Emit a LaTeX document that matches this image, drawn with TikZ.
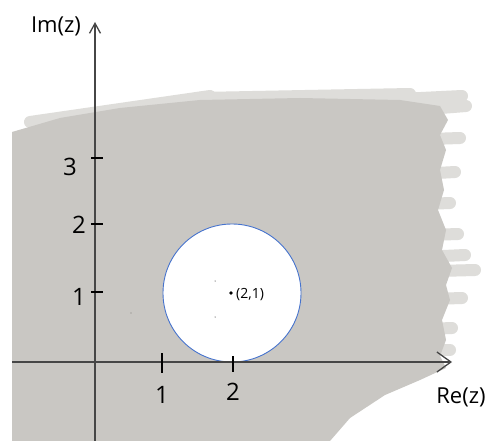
\documentclass[tikz,border=0pt]{standalone}
\usepackage{fontspec}
\setmainfont{Open Sans}
\usetikzlibrary{arrows.meta}
\definecolor{regiongray}{RGB}{201,199,195}
\definecolor{regionlight}{RGB}{222,221,218}
\definecolor{axiscol}{RGB}{70,70,70}
\definecolor{circblue}{RGB}{70,115,205}
\begin{document}
\begin{tikzpicture}[x=1pt,y=-1pt,
  brush/.style={regionlight, line width=12pt, line cap=round},
  axisline/.style={axiscol, line width=1.3pt},
  tickmark/.style={black, line width=1.3pt},
  ticklabel/.style={font=\fontsize{24}{24}\selectfont, inner sep=0pt},
  axislabel/.style={font=\fontsize{22}{22}\selectfont, inner sep=0pt}]
\useasboundingbox (0,0) rectangle (490,441);
\fill[white] (0,0) rectangle (490,441);
% light brush strokes at the edges
\draw[brush] (30,122) -- (210,96);
\draw[brush] (200,98) -- (410,94);
\draw[brush] (380,100) -- (462,96);
\draw[brush] (390,112) -- (466,106);
\draw[brush] (400,140) -- (460,138);
\draw[brush] (400,175) -- (455,172);
\draw[brush] (400,205) -- (450,203);
\draw[brush] (400,236) -- (458,234);
\draw[brush] (400,258) -- (465,255);
\draw[brush] (400,272) -- (475,270);
\draw[brush] (400,300) -- (462,298);
\draw[brush] (400,330) -- (452,328);
\draw[brush] (400,350) -- (450,350);
% main shaded region
\fill[regiongray] (12,132) -- (60,118) -- (120,108) -- (200,100) -- (300,98)
  -- (400,100) -- (440,106) -- (448,120) -- (440,135) -- (446,150)
  -- (440,170) -- (444,190) -- (438,210) -- (446,230) -- (442,250)
  -- (452,268) -- (446,285) -- (450,300) -- (442,320) -- (446,340)
  -- (440,356) -- (446,368) -- (420,380) -- (385,395) -- (350,418)
  -- (330,441) -- (12,441) -- cycle;
% circle
\fill[white, draw=circblue, line width=0.9pt] (232,293) circle (69);
\fill[black] (215,281) circle (0.5);
\fill[black] (215,317) circle (0.5);
\fill[black] (131,313) circle (0.4);
% axes
\coordinate (xs) at (12,362);
\coordinate (xe) at (452,362);
\coordinate (ys) at (95,441);
\coordinate (ye) at (95,22);
\draw[axisline, -{Straight Barb[length=14pt,width=20pt,line width=1.3pt]}] (xs) -- (xe);
\draw[axisline, -{Straight Barb[length=10pt,width=11pt,line width=1.3pt]}] (ys) -- (ye);
% ticks
\draw[tickmark] (91,158) -- (103,158);
\draw[tickmark] (91,224) -- (103,224);
\draw[tickmark] (91,292) -- (103,292);
\draw[tickmark] (162,353) -- (162,373);
\draw[tickmark] (233,356) -- (233,372);
% tick labels
\node[ticklabel] (y3) at (70,167) {3};
\node[ticklabel] (y2) at (79,225) {2};
\node[ticklabel] (y1) at (79,297) {1};
\node[ticklabel] (x1) at (162,395) {1};
\node[ticklabel] (x2) at (233,392) {2};
% axis labels
\node[axislabel] (im) at (56,26) {Im(z)};
\node[axislabel] (re) at (461,397) {Re(z)};
% centre
\fill[black] (231,293) circle (1.8);
\node[font=\fontsize{14}{14}\selectfont, inner sep=0pt, anchor=west] (c) at (236,295) {(2,1)};
\end{tikzpicture}
\end{document}
